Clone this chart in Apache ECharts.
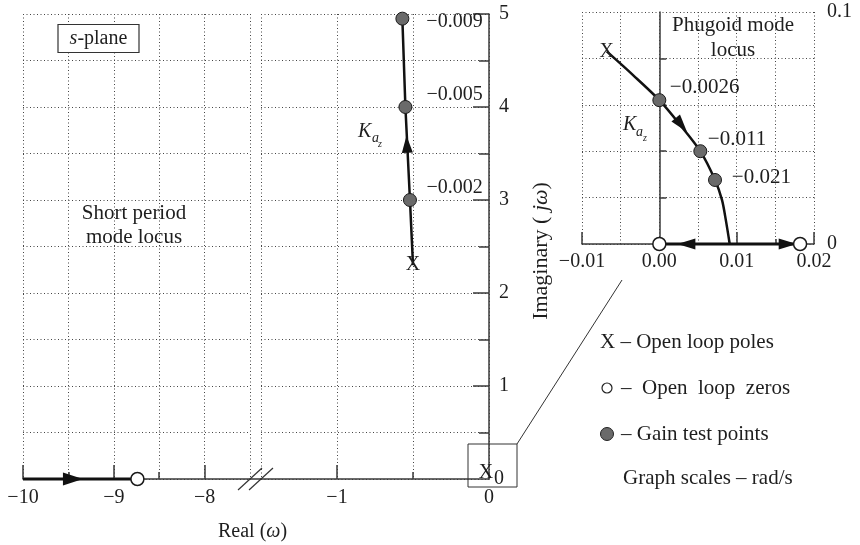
<!DOCTYPE html>
<html><head><meta charset="utf-8">
<script src="https://cdn.jsdelivr.net/npm/echarts@6/dist/echarts.min.js"></script>
<style>html,body{margin:0;padding:0;background:#fff}#c{width:860px;height:545px}</style>
</head><body><div id="c"></div>
<script>
// ---------------- data ----------------
const mainLeftTicks = [-10, -9, -8];
const mainLeftMinor = [-9.5, -8.5];
const mainRightTicks = [-1, 0];
const mainRightMajor = [-1];
const mainRightMinor = [-0.5];
const imagTicks = [1, 2, 3, 4, 5];
const imagZeroTick = [0];
const imagMinor = [0.5, 1.5, 2.5, 3.5, 4.5];
const insetXTicks = [-0.01, 0, 0.01, 0.02];
const insetXMajor = [-0.01, 0.01, 0.02];
const insetXMinor = [0.015];
const insetYTicks = [0, 0.1];
const insetYMinor = [0.02, 0.04, 0.06, 0.08];

// short period mode locus
const shortPeriodRe = [-0.50, -0.52, -0.55, -0.57];
const shortPeriodIm = [2.30, 3.00, 4.00, 4.95];
const shortPeriodPoleRe = [-0.50, 0];
const shortPeriodPoleIm = [2.30, 0];
const shortPeriodGainRe = [-0.52, -0.55, -0.57];
const shortPeriodGainIm = [3.00, 4.00, 4.95];
const shortPeriodGainLabels = ['\u22120.002', '\u22120.005', '\u22120.009'];
const shortPeriodArrow = [-0.54, 3.6];

// real-axis branch (left part)
const realBranchRe = [-10, -8.74];
const realZeroRe = [-8.74];
const realArrowRe = [-9.45];

// phugoid mode locus (inset)
const phugoidRe = [-0.0068, -0.0034, 0, 0.0027, 0.0053, 0.0072, 0.0081, 0.0086, 0.0091];
const phugoidIm = [0.083, 0.0728, 0.062, 0.0513, 0.040, 0.0276, 0.019, 0.0103, 0];
const phugoidPole = [-0.0068, 0.083];
const phugoidGainRe = [0, 0.0053, 0.0072];
const phugoidGainIm = [0.062, 0.040, 0.0276];
const phugoidGainLabels = ['\u22120.0026', '\u22120.011', '\u22120.021'];
const phugoidZerosRe = [0, 0.0182];
const phugoidArrowRe = [0.00285, 0.0035, 0.0166];
const phugoidArrowIm = [0.0513, 0, 0];

// ---------------- styles ----------------
const FONT = '"Liberation Serif","Times New Roman",serif';
const TXT = '#1e1e1e';
const AX = '#3a3a3a';
const LOC = '#111';
const GAINFILL = '#6a6a6a';
const dotted = {show: true, lineStyle: {type: [1, 2.5], color: '#444', width: 1}};
const minus = v => (v < 0 ? '\u2212' : '') + Math.abs(v);
const font = (o) => Object.assign({fontFamily: FONT, fontSize: 20, color: TXT, opacity: 1}, o || {});
const tickStyle = {color: AX, width: 1.5};

function ax(grid, min, max, interval, pos, opt) {
  return Object.assign({
    gridIndex: grid, type: 'value', position: pos, min, max, interval,
    axisLine: {show: false}, axisTick: {show: false}, axisLabel: {show: false},
    splitLine: {show: false}
  }, opt);
}
const ticks = (vals, len) => ({show: true, inside: true, length: len, customValues: vals, lineStyle: tickStyle});
const axLine = (onZero) => ({show: true, onZero: onZero, lineStyle: tickStyle});

const xAxis = [
  // grid0
  ax(0, -10, -7.5, 0.5, 'bottom', {axisLine: axLine(true), splitLine: dotted}),
  ax(0, -10, -7.5, 0.5, 'bottom', {axisTick: ticks(mainLeftMinor, 7)}),
  ax(0, -10, -7.5, 0.5, 'bottom', {axisTick: ticks(mainLeftTicks, 14),
    axisLabel: font({show: true, customValues: mainLeftTicks, formatter: minus, margin: 9})}),
  // grid1
  ax(1, -1.5, 0, 0.5, 'bottom', {axisLine: axLine(true), splitLine: dotted}),
  ax(1, -1.5, 0, 0.5, 'bottom', {axisTick: ticks(mainRightMinor, 7)}),
  ax(1, -1.5, 0, 0.5, 'bottom', {axisTick: ticks(mainRightMajor, 14),
    axisLabel: font({show: true, customValues: mainRightTicks, formatter: minus, margin: 9})}),
  // grid2 (inset)
  ax(2, -0.01, 0.02, 0.005, 'bottom', {axisLine: axLine(true), splitLine: dotted}),
  ax(2, -0.01, 0.02, 0.005, 'bottom', {axisTick: ticks(insetXMinor, 5)}),
  ax(2, -0.01, 0.02, 0.005, 'bottom', {axisTick: ticks(insetXMajor, 12),
    axisLabel: font({show: true, customValues: insetXTicks, margin: 8,
      formatter: v => (v < 0 ? '\u2212' : '') + Math.abs(v).toFixed(2)})})
];

const yAxis = [
  // grid0
  ax(0, 0, 5, 0.5, 'left', {splitLine: dotted}),
  // grid1 (imaginary axis on the right)
  ax(1, 0, 5, 0.5, 'right', {axisLine: axLine(true), splitLine: dotted}),
  ax(1, 0, 5, 0.5, 'right', {axisTick: ticks(imagMinor, 10)}),
  ax(1, 0, 5, 0.5, 'right', {axisTick: ticks(imagTicks, 16),
    axisLabel: font({show: true, customValues: imagTicks, margin: 10})}),
  ax(1, 0, 5, 0.5, 'right', {axisLabel: font({show: true, customValues: imagZeroTick, margin: 5, padding: [0, 0, 12, 0]})}),
  // grid2 (inset) axis at Re = 0
  ax(2, 0, 0.1, 0.02, 'left', {axisLine: axLine(true), splitLine: dotted}),
  ax(2, 0, 0.1, 0.02, 'left', {axisLine: {show: false, onZero: true}, axisTick: ticks(insetYMinor, 7)}),
  ax(2, 0, 0.1, 0.02, 'right', {axisLine: {show: false, onZero: false},
    axisLabel: font({show: true, customValues: insetYTicks, margin: 13, formatter: v => String(v)})})
];

const zip = (a, b) => a.map((v, i) => [v, b[i]]);
const gainItem = {color: GAINFILL, borderColor: '#1a1a1a', borderWidth: 1, opacity: 1};
const zeroItem = {color: '#fff', borderColor: '#1a1a1a', borderWidth: 1.5, opacity: 1};
const poleLabel = font({show: true, position: 'inside', formatter: 'X'});
const hidden = {color: 'rgba(0,0,0,0)', opacity: 1};
const solid = {color: LOC, opacity: 1};

// label placements (style, not data)
const spLabelPos = [[23.5, -5.5], [28, -5.5], [31, 10]];
const phLabelPos = [[17.5, -5.7], [14.5, -4.7], [23.8, 4.5]];
const phArrowRot = [-141, 90, -90];

const G0 = {xAxisIndex: 0, yAxisIndex: 0};
const G1 = {xAxisIndex: 3, yAxisIndex: 1};
const G2 = {xAxisIndex: 6, yAxisIndex: 5};
const S = (g, o) => Object.assign({clip: false, emphasis: {disabled: true}}, g, o);

const series = [
  // ---- left part: real-axis branch
  S(G0, {type: 'line', data: realBranchRe.map(x => [x, 0]), symbol: 'none', lineStyle: {color: LOC, width: 3}, z: 3}),
  S(G0, {type: 'scatter', data: realZeroRe.map(x => [x, 0]), symbolSize: 13, itemStyle: zeroItem, z: 5}),
  S(G0, {type: 'scatter', data: realArrowRe.map(x => [x, 0]), symbol: 'triangle', symbolSize: [13, 20],
    symbolRotate: -90, itemStyle: solid, z: 4}),
  // ---- right part: short period locus
  S(G1, {type: 'line', data: zip(shortPeriodRe, shortPeriodIm), symbol: 'none', lineStyle: {color: LOC, width: 2.5}, z: 3}),
  S(G1, {type: 'scatter', z: 5,
    data: zip(shortPeriodGainRe, shortPeriodGainIm).map((v, i) => ({value: v, label: {position: spLabelPos[i]}})),
    symbolSize: 13, itemStyle: gainItem,
    label: font({show: true, align: 'left', verticalAlign: 'middle', formatter: p => shortPeriodGainLabels[p.dataIndex]})}),
  S(G1, {type: 'scatter', z: 6,
    data: zip(shortPeriodPoleRe, shortPeriodPoleIm).map((v, i) => ({value: v, label: {offset: i === 1 ? [-3, -6] : [0, 0]}})),
    symbol: 'rect', symbolSize: 2, itemStyle: hidden, label: poleLabel}),
  S(G1, {type: 'scatter', z: 4, data: [shortPeriodArrow],
    symbol: 'triangle', symbolSize: [11, 17], symbolRotate: 3, itemStyle: solid}),
  // ---- inset: phugoid locus
  S(G2, {type: 'line', data: zip(phugoidRe, phugoidIm), symbol: 'none', smooth: 0.3, lineStyle: {color: LOC, width: 2.5}, z: 3}),
  S(G2, {type: 'line', data: phugoidZerosRe.map(x => [x, 0]), symbol: 'none', lineStyle: {color: LOC, width: 3}, z: 3}),
  S(G2, {type: 'scatter', data: phugoidZerosRe.map(x => [x, 0]), symbolSize: 13, itemStyle: zeroItem, z: 5}),
  S(G2, {type: 'scatter', z: 5,
    data: zip(phugoidGainRe, phugoidGainIm).map((v, i) => ({value: v, label: {position: phLabelPos[i]}})),
    symbolSize: 13, itemStyle: gainItem,
    label: font({show: true, fontSize: 21, align: 'left', verticalAlign: 'middle', formatter: p => phugoidGainLabels[p.dataIndex]})}),
  S(G2, {type: 'scatter', z: 6, data: [phugoidPole], symbol: 'rect', symbolSize: 2, itemStyle: hidden, label: poleLabel}),
  S(G2, {type: 'scatter', z: 4,
    data: zip(phugoidArrowRe, phugoidArrowIm).map((v, i) => ({value: v, symbolRotate: phArrowRot[i]})),
    symbol: 'triangle', symbolSize: [11, 18], itemStyle: solid})
];

// ---------------- annotations ----------------
function T(x, y, text, o) {
  o = o || {};
  const st = {text, fill: TXT, font: (o.italic ? 'italic ' : '') + (o.size || 21) + 'px ' + FONT,
    align: o.align || 'left', verticalAlign: 'middle', textAlign: o.align || 'left', textVerticalAlign: 'middle'};
  if (o.rich) st.rich = o.rich;
  return {type: 'text', x, y, rotation: o.rot || 0, z: 20, style: st};
}
const rich = (size) => ({
  n: {fontFamily: FONT, fontSize: size, fill: TXT},
  i: {fontFamily: FONT, fontSize: size, fontStyle: 'italic', fill: TXT}
});
const L = (x1, y1, x2, y2, w) => ({type: 'line', z: 20, shape: {x1, y1, x2, y2}, style: {stroke: '#333', lineWidth: w || 1}});

const graphic = [
  // s-plane box
  {type: 'rect', z: 20, shape: {x: 58, y: 24.5, width: 81, height: 28}, style: {fill: '#fff', stroke: '#333', lineWidth: 1.2}},
  T(98.5, 38.5, '{i|s}{n|-plane}', {align: 'center', rich: rich(20)}),
  T(134, 213, 'Short period', {align: 'center'}),
  T(134, 237, 'mode locus', {align: 'center'}),
  T(733, 25, 'Phugoid mode', {align: 'center'}),
  T(733, 50, 'locus', {align: 'center'}),
  // K_az labels
  T(358, 132, 'K', {italic: true, size: 20}),
  T(372, 138, 'a', {italic: true, size: 14}),
  T(378, 144, 'z', {italic: true, size: 10}),
  T(623, 125, 'K', {italic: true, size: 20}),
  T(636, 132, 'a', {italic: true, size: 14}),
  T(643, 138, 'z', {italic: true, size: 10}),
  // axis titles
  T(218, 532, '{n|Real (}{i|\u03c9}{n|)}', {rich: rich(20)}),
  T(541, 251, '{n|Imaginary ( }{i|j\u03c9}{n|)}', {align: 'center', rot: Math.PI / 2, rich: rich(22)}),
  // axis continuation and break marks
  L(250, 479, 261, 479, 1.5),
  L(238, 490, 262, 468, 1.2),
  L(249, 490, 273, 468, 1.2),
  // zoom box and connector
  {type: 'rect', z: 20, shape: {x: 468, y: 444, width: 49, height: 43}, style: {fill: 'none', stroke: '#333', lineWidth: 1}},
  L(517, 444, 622, 280, 1),
  // key
  T(600, 342, 'X \u2013 Open loop poles'),
  {type: 'circle', z: 20, shape: {cx: 607, cy: 388, r: 5}, style: {fill: '#fff', stroke: '#222', lineWidth: 1.2}},
  T(621, 388, '\u2013  Open  loop  zeros'),
  {type: 'circle', z: 20, shape: {cx: 607, cy: 434, r: 6.5}, style: {fill: GAINFILL, stroke: '#222', lineWidth: 1}},
  T(621, 434, '\u2013 Gain test points'),
  T(623, 478, 'Graph scales \u2013 rad/s')
];

const chart = echarts.init(document.getElementById('c'), null, {renderer: 'canvas'});
chart.setOption({
  animation: false,
  backgroundColor: '#fff',
  grid: [
    {left: 23, top: 14, width: 227, height: 465},
    {left: 261, top: 14, width: 228, height: 465},
    {left: 582, top: 12, width: 232, height: 232}
  ],
  xAxis, yAxis, series, graphic
});
</script></body></html>
